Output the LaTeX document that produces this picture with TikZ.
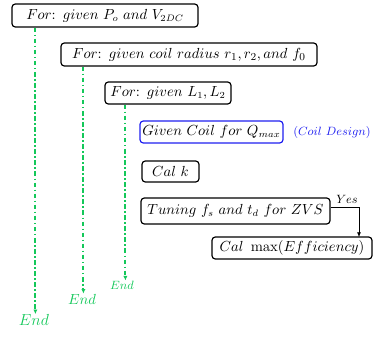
\documentclass[tikz,border=0pt]{standalone}
\usetikzlibrary{arrows.meta}
\definecolor{endgreen}{RGB}{20,200,90}
\definecolor{dblue}{RGB}{30,30,240}
\begin{document}
\begin{tikzpicture}[x=0.75pt,y=-0.75pt,
  boxa/.style={draw=black,line width=0.9pt,rounded corners=2.5pt,inner sep=0pt,font=\fontsize{10.5}{12}\selectfont},
  gline/.style={endgreen,line width=1.4pt,line cap=butt,dash pattern=on 3.5pt off 1.8pt on 1.2pt off 1.8pt,-{Latex[length=3.5pt,width=3.2pt]}},
  gtext/.style={text=endgreen,inner sep=0pt},
  arr/.style={draw=black,line width=0.5pt,-{Latex[length=3.5pt,width=3pt]}}]
\useasboundingbox (0,0) rectangle (380,337);
\node[boxa,minimum width=139.5pt,minimum height=17.25pt] (b1) at (105,15.5) {$For\colon\ given\ P_o\ and\ V_{2DC}$};
\node[boxa,font=\fontsize{11}{13}\selectfont,minimum width=192pt,minimum height=17.25pt] (b2) at (189,54.5) {$For\colon\ given\ coil\ radius\ r_1,r_2,and\ f_0$};
\node[boxa,minimum width=94.5pt,minimum height=16.5pt] (b3) at (168,93) {$For\colon\ given\ L_1,L_2$};
\node[boxa,draw=dblue,minimum width=107.25pt,minimum height=16.5pt] (b4) at (211.5,132) {$Given\ Coil\ for\ Q_{max}$};
\node[text=dblue,inner sep=0pt,font=\fontsize{9.5}{11}\selectfont,anchor=west] (cd) at (293,132) {$(Coil\ Design)$};
\node[boxa,minimum width=42.75pt,minimum height=15.75pt] (b5) at (170.5,171.5) {$Cal\ k$};
\node[boxa,minimum width=141.75pt,minimum height=19.5pt] (b6) at (235.5,211) {$Tuning\ f_s\ and\ t_d\ for\ ZVS$};
\node[boxa,font=\fontsize{11}{13}\selectfont,minimum width=120pt,minimum height=16.5pt] (b7) at (292,248) {$Cal\ \max(Efficiency)$};
\node[inner sep=0pt,font=\fontsize{9}{11}\selectfont] (yes) at (347,199) {$Yes$};
\coordinate (t7) at (359,237);
\draw[arr] (b6.east |- 0,207) -| (t7);
\node[gtext,font=\fontsize{12}{14}\selectfont] (e1) at (34,320) {$End$};
\node[gtext,font=\fontsize{11}{13}\selectfont] (e2) at (82,299) {$End$};
\node[gtext,font=\fontsize{9.5}{11}\selectfont] (e3) at (122,285) {$End$};
\coordinate (s1) at ([xshift=18pt]b1.south west);
\coordinate (s2) at ([xshift=17.25pt]b2.south west);
\coordinate (s3) at ([xshift=15.75pt]b3.south west);
\draw[gline] (s1) -- (s1 |- e1.north);
\draw[gline] (s2) -- (s2 |- e2.north);
\draw[gline] (s3) -- (s3 |- e3.north);
\end{tikzpicture}
\end{document}
